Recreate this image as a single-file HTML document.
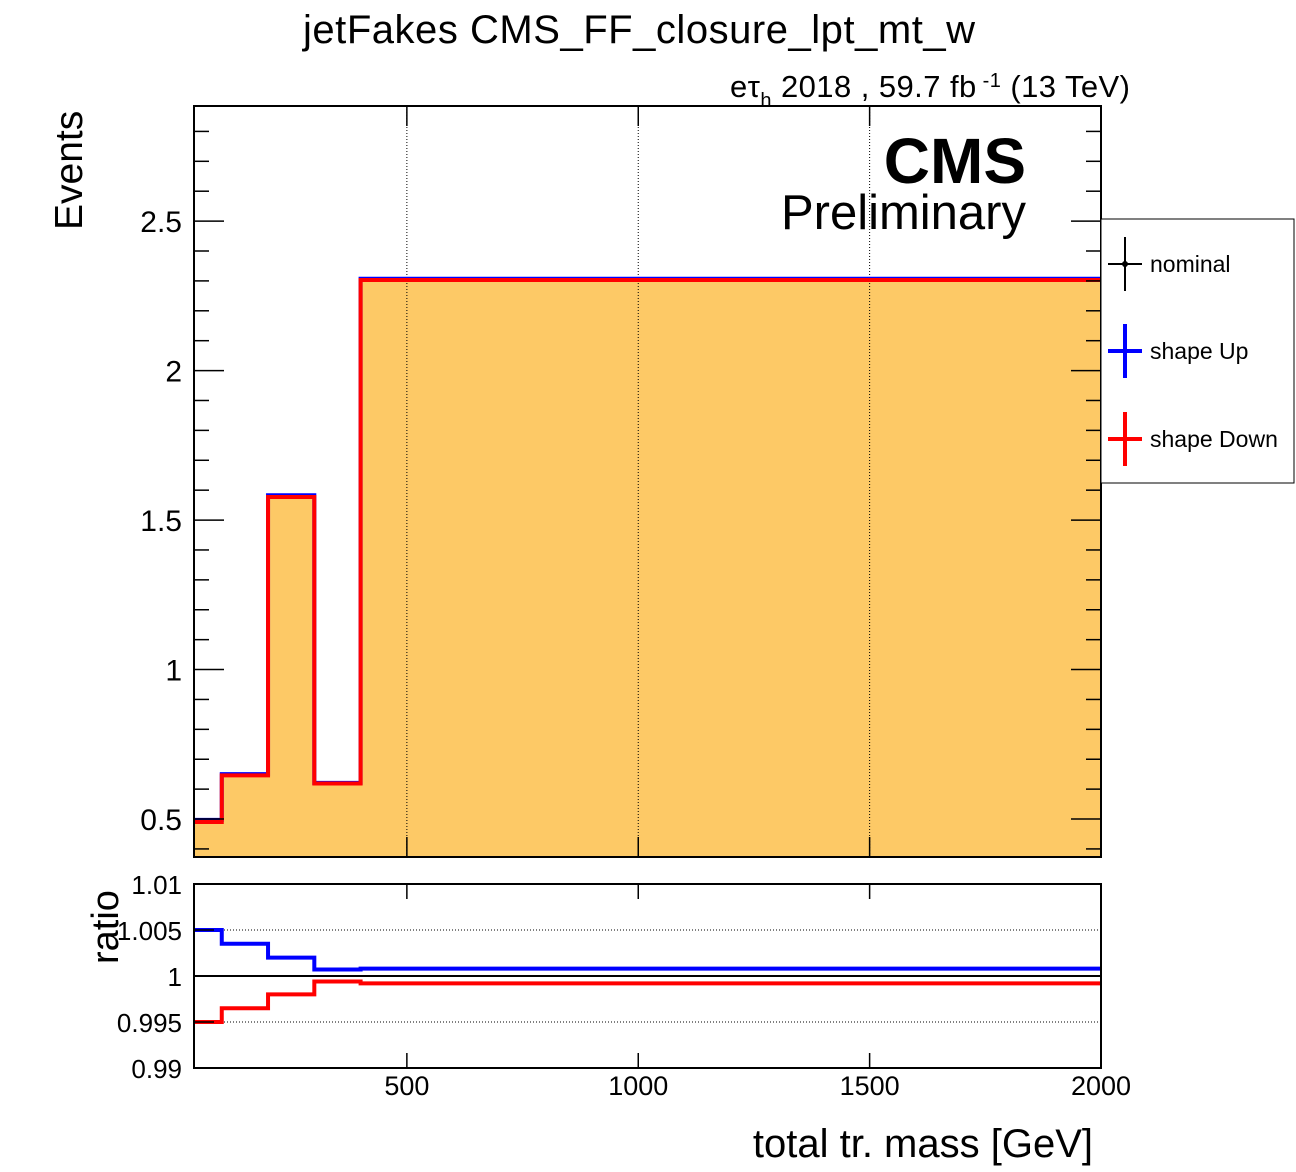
<!DOCTYPE html>
<html><head><meta charset="utf-8"><style>
body{margin:0;background:#fff;}
svg{display:block;font-family:"Liberation Sans",sans-serif;}
</style></head><body>
<svg id="c" width="1296" height="1172" xmlns="http://www.w3.org/2000/svg">
<text x="639" y="43" font-size="40" text-anchor="middle" textLength="672">jetFakes CMS_FF_closure_lpt_mt_w</text>
<text x="730" y="97" font-size="31" textLength="400">eτ<tspan font-size="20" dy="10">h</tspan><tspan dy="-10"> 2018 , 59.7 fb</tspan><tspan font-size="20" dy="-10"> -1</tspan><tspan dy="10"> (13 TeV)</tspan></text>
<g id="main"></g>
<g id="ratio"></g>
<text x="1026" y="183" font-size="64" font-weight="bold" text-anchor="end">CMS</text>
<text x="1026" y="229" font-size="49" text-anchor="end">Preliminary</text>
<text transform="translate(82,230) rotate(-90)" font-size="39">Events</text>
<text transform="translate(118,964) rotate(-90)" font-size="38">ratio</text>
<text x="1093" y="1157" font-size="40" text-anchor="end">total tr. mass [GeV]</text>
<g>
<rect x="1101" y="219" width="193" height="264" fill="#fff" stroke="#000" stroke-width="1"/>
<g><line x1="1108" y1="264" x2="1142" y2="264" stroke="#000" stroke-width="2"/><line x1="1125" y1="237" x2="1125" y2="291" stroke="#000" stroke-width="2"/><circle cx="1125" cy="264" r="3"/><text x="1150" y="272" font-size="23">nominal</text></g>
<g><line x1="1108" y1="351" x2="1142" y2="351" stroke="#00f" stroke-width="4"/><line x1="1125" y1="324" x2="1125" y2="378" stroke="#00f" stroke-width="4"/><text x="1150" y="359" font-size="23">shape Up</text></g>
<g><line x1="1108" y1="439" x2="1142" y2="439" stroke="#f00" stroke-width="4"/><line x1="1125" y1="412" x2="1125" y2="466" stroke="#f00" stroke-width="4"/><text x="1150" y="447" font-size="23">shape Down</text></g>
</g>
</svg>
<script>
const binEdges=[40,100,200,300,400,2000];
const nominalVals=[0.495,0.648,1.58,0.62,2.305];
const upVals=[0.497,0.650,1.583,0.621,2.307];
const downVals=[0.490,0.646,1.577,0.619,2.303];
const ratioUp=[1.005,1.0035,1.002,1.0007,1.0008];
const ratioDown=[0.995,0.9965,0.998,0.9994,0.9992];
const xTicks=[500,1000,1500,2000];
const yTicks=[0.5,1,1.5,2,2.5];
const rTicks=[0.99,0.995,1,1.005,1.01];
const rTickLabels=["0.99","0.995","1","1.005","1.01"];

const NS="http://www.w3.org/2000/svg";
const L=194,R=1101,MT=106,MB=857,RT=884,RB=1068;
const X0=40,X1=2000,Y0=0.373,Y1=2.885,R0=0.99,R1=1.01;
const sx=v=>L+(v-X0)/(X1-X0)*(R-L);
const sy=v=>MB-(v-Y0)/(Y1-Y0)*(MB-MT);
const sr=v=>RB-(v-R0)/(R1-R0)*(RB-RT);
function mk(p,t,a){const e=document.createElementNS(NS,t);for(const k in a)e.setAttribute(k,a[k]);p.appendChild(e);return e;}
const main=document.getElementById('main'),ratio=document.getElementById('ratio');
function stepPath(vals,f){let d='';vals.forEach((v,i)=>{const x0=sx(binEdges[i]),x1=sx(binEdges[i+1]),y=f(v);d+=(i?'L':'M')+x0+','+y+'L'+x1+','+y;});return d;}
let fd=stepPath(nominalVals,sy)+'L'+R+','+MB+'L'+L+','+MB+'Z';
let e=mk(main,'path',{d:fd,fill:'#fdc966',stroke:'none'});


xTicks.slice(0,3).forEach(t=>{const g=mk(main,'line',{x1:sx(t),x2:sx(t),y1:MT,y2:MB,stroke:'#000','stroke-width':1,'stroke-dasharray':'1,2'});

});
e=mk(main,'path',{d:stepPath(upVals,sy),fill:'none',stroke:'#00f','stroke-width':4});


e=mk(main,'path',{d:stepPath(downVals,sy),fill:'none',stroke:'#f00','stroke-width':4});


e=mk(main,'rect',{x:L,y:MT,width:R-L,height:MB-MT,fill:'none',stroke:'#000','stroke-width':2});


for(let v=0.4;v<=2.85;v+=0.1){const vv=Math.round(v*10)/10;const maj=Math.abs(vv*2-Math.round(vv*2))<1e-6;const len=maj?30:15;const y=sy(vv);
mk(main,'line',{x1:L,x2:L+len,y1:y,y2:y,stroke:'#000','stroke-width':1.5});
mk(main,'line',{x1:R,x2:R-len,y1:y,y2:y,stroke:'#000','stroke-width':1.5});}
yTicks.forEach(t=>{const tx=mk(main,'text',{x:182,y:sy(t)+11,'font-size':30,'text-anchor':'end'});tx.textContent=String(t);

});
xTicks.forEach(t=>{const x=sx(t);mk(main,'line',{x1:x,x2:x,y1:MB,y2:MB-20,stroke:'#000','stroke-width':1.5});mk(main,'line',{x1:x,x2:x,y1:MT,y2:MT+20,stroke:'#000','stroke-width':1.5});
mk(ratio,'line',{x1:x,x2:x,y1:RB,y2:RB-15,stroke:'#000','stroke-width':1.5});mk(ratio,'line',{x1:x,x2:x,y1:RT,y2:RT+15,stroke:'#000','stroke-width':1.5});
const tx=mk(ratio,'text',{x:x,y:1095,'font-size':27,'text-anchor':'middle'});tx.textContent=String(t);

});
[0.995,1.005].forEach(t=>{const g=mk(ratio,'line',{x1:L,x2:R,y1:sr(t),y2:sr(t),stroke:'#000','stroke-width':1,'stroke-dasharray':'1,2'});

});
e=mk(ratio,'line',{x1:L,x2:R,y1:sr(1),y2:sr(1),stroke:'#000','stroke-width':2});


e=mk(ratio,'path',{d:stepPath(ratioUp,sr),fill:'none',stroke:'#00f','stroke-width':4});


e=mk(ratio,'path',{d:stepPath(ratioDown,sr),fill:'none',stroke:'#f00','stroke-width':4});


e=mk(ratio,'rect',{x:L,y:RT,width:R-L,height:RB-RT,fill:'none',stroke:'#000','stroke-width':2});


rTicks.forEach((t,i)=>{const tx=mk(ratio,'text',{x:182,y:sr(t)+10,'font-size':26,'text-anchor':'end'});tx.textContent=rTickLabels[i];


mk(ratio,'line',{x1:L,x2:L+20,y1:sr(t),y2:sr(t),stroke:'#000','stroke-width':1.5});});
</script>
</body></html>
